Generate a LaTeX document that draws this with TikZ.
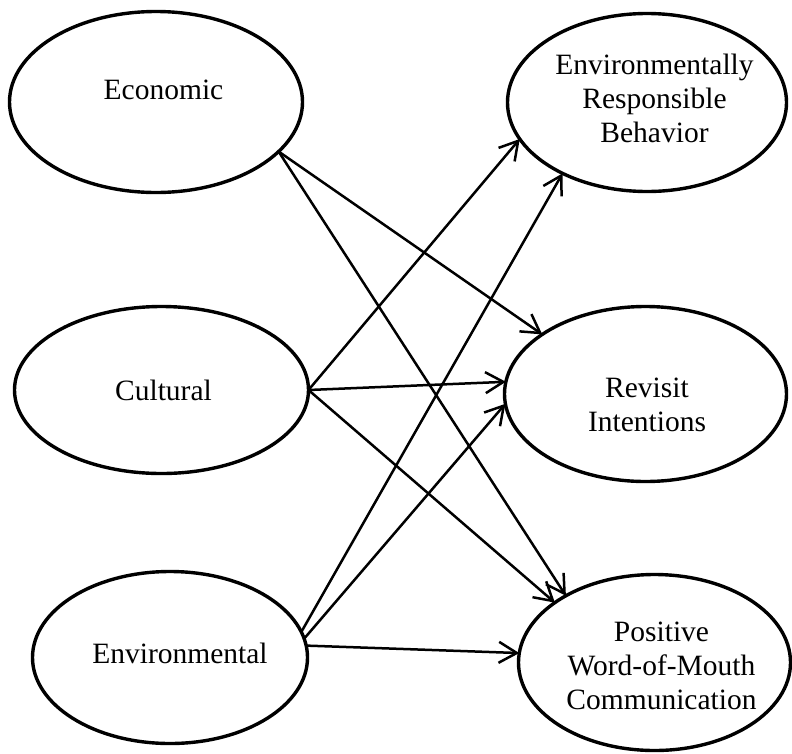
\documentclass[tikz,border=0pt]{standalone}
\usepackage{fontspec}
\setmainfont{Liberation Serif}
\usetikzlibrary{shapes.geometric,arrows.meta}
\begin{document}
\begin{tikzpicture}[x=1pt,y=-1pt,
  construct/.style={ellipse, draw, line width=3.4pt, inner sep=0pt, outer sep=0pt},
  lbl/.style={font=\fontsize{29.5}{34}\selectfont, align=center, inner sep=0pt},
  link/.style={line width=2.5pt, -{Straight Barb[length=18pt,width=21pt]}}
]
\useasboundingbox[fill=white] (0,0) rectangle (792,753);

% constructs
\node[construct, minimum width=293pt, minimum height=181pt] (eco)  at (156,102)     {};
\node[construct, minimum width=294pt, minimum height=167pt] (cul)  at (161.5,390)   {};
\node[construct, minimum width=275pt, minimum height=172pt] (env)  at (170,657.5)   {};
\node[construct, minimum width=279pt, minimum height=178pt] (erb)  at (647,102.5)   {};
\node[construct, minimum width=282pt, minimum height=175pt] (rev)  at (645.5,394)   {};
\node[construct, minimum width=272pt, minimum height=176pt] (pwom) at (654.5,662.5) {};

% labels
\node[lbl, anchor=base] (ecot) at (163.5,99)  {Economic};
\node[lbl, anchor=base] (cult) at (163.5,400) {Cultural};
\node[lbl, anchor=base] (envt) at (180,663)   {Environmental};
\node[lbl] (erbt)  at (654.5,98)  {Environmentally\\Responsible\\Behavior};
\node[lbl] (revt)  at (647,405)   {Revisit\\Intentions};
\node[lbl] (pwomt) at (661.5,666) {Positive\\Word-of-Mouth\\Communication};

% paths
\draw[link] (eco.-22.9) -- (rev.150);
\draw[link] (eco.-22.9) -- (pwom.143.6);
\draw[link] (cul.0) -- (erb.196.7);
\draw[link] (cul.0) -- (rev.175.6);
\draw[link] (cul.0) -- (pwom.149.9);
\draw[link] (env.11.3) -- (erb.220.7);
\draw[link] (env.8.4) -- (rev.184.8);
\draw[link] (env.5.5) -- (pwom.176.6);
\end{tikzpicture}
\end{document}
